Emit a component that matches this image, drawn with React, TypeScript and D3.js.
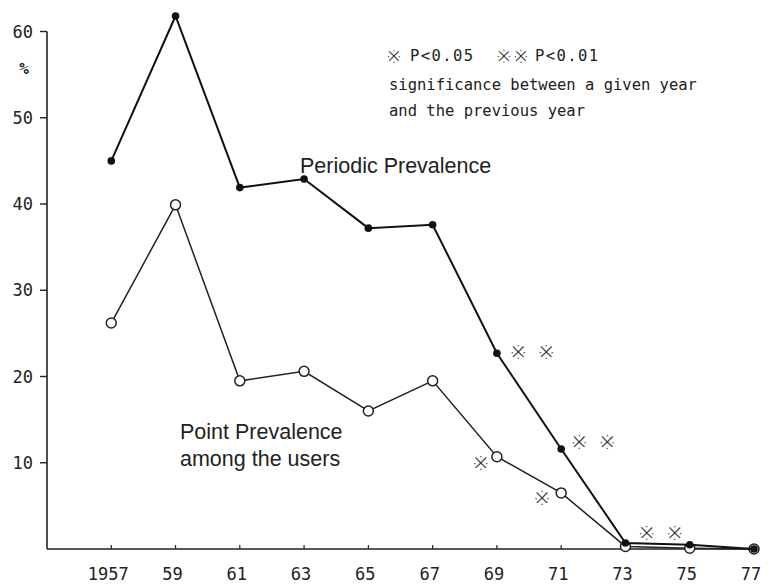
import React from "react";
import * as d3 from "d3";

// survey years and tick labels
const years = [1957, 1959, 1961, 1963, 1965, 1967, 1969, 1971, 1973, 1975, 1977];
const xTickLabels = ["1957", "59", "61", "63", "65", "67", "69", "71", "73", "75", "77"];
const yTicks = [10, 20, 30, 40, 50, 60];

// % values
const periodic = [45.0, 61.8, 41.9, 42.9, 37.2, 37.6, 22.7, 11.6, 0.7, 0.5, 0.0];
const pointPrev = [26.2, 39.9, 19.5, 20.6, 16.0, 19.5, 10.7, 6.5, 0.3, 0.1, 0.0];

// significance marks (anchor year, anchor value, count of ※)
const starYears = [1970.1, 1968.5, 1972.0, 1970.4, 1974.1];
const starValues = [22.9, 10.1, 12.5, 6.0, 2.0];
const starCounts = [2, 1, 2, 1, 2];

const W = 771;
const H = 584;
const mono = "'DejaVu Sans Mono', 'Liberation Mono', monospace";
const sans = "'Liberation Sans', Arial, sans-serif";
const starFont = "'DejaVu Sans ExtraLight', 'DejaVu Sans', sans-serif";

export default function App() {
  const x = d3.scaleLinear().domain([1955, 1977]).range([47, 754]);
  const y = d3.scaleLinear().domain([0, 60]).range([549, 31.5]);

  const line = d3
    .line<number>()
    .x((d, i) => x(years[i]))
    .y((d) => y(d));

  return (
    <svg width={W} height={H} style={{ position: "absolute", left: 0, top: 0, background: "#fff" }}>
      <rect width={W} height={H} fill="#fff" />

      {/* axes */}
      <line x1={x(1955)} x2={x(1955)} y1={y(60)} y2={y(0)} stroke="#222" strokeWidth={1.6} />
      <line x1={x(1955)} x2={x(1977) + 4} y1={y(0)} y2={y(0)} stroke="#222" strokeWidth={1.6} />
      {yTicks.map((t) => (
        <g key={t}>
          <line x1={x(1955) - 7} x2={x(1955)} y1={y(t)} y2={y(t)} stroke="#222" strokeWidth={1.4} />
          <text x={33} y={y(t) + 6} textAnchor="end" fontFamily={mono} fontSize={17} fill="#222">
            {t}
          </text>
        </g>
      ))}
      <text x={24} y={74} textAnchor="middle" fontFamily={mono} fontSize={16} fontWeight="bold" fill="#222">%</text>
      {years.map((yr, i) => (
        <g key={yr}>
          <line x1={x(yr)} x2={x(yr)} y1={y(0)} y2={y(0) - 4} stroke="#222" strokeWidth={1.2} />
          <text x={x(yr) - 3} y={580} textAnchor="middle" fontFamily={mono} fontSize={17} fill="#222">
            {xTickLabels[i]}
          </text>
        </g>
      ))}

      {/* point prevalence */}
      <path d={line(pointPrev) || ""} fill="none" stroke="#222" strokeWidth={1.5} />
      {pointPrev.map((v, i) => (
        <circle key={i} cx={x(years[i])} cy={y(v)} r={5} fill="#fff" stroke="#222" strokeWidth={1.5} />
      ))}

      {/* periodic prevalence */}
      <path d={line(periodic) || ""} fill="none" stroke="#111" strokeWidth={2} />
      {periodic.map((v, i) => (
        <circle key={i} cx={x(years[i])} cy={y(v)} r={3.8} fill="#111" />
      ))}

      {/* significance marks */}
      {starYears.map((yr, i) => {
        const offs = starCounts[i] === 2 ? [-14, 14] : [0];
        return offs.map((o, j) => (
          <text
            key={i + "-" + j}
            x={x(yr) + o}
            y={y(starValues[i]) + 8}
            textAnchor="middle"
            fontFamily={starFont}
            fontWeight={200}
            fontSize={22}
            fill="#333"
          >
            ※
          </text>
        ));
      })}

      {/* series labels */}
      <text x={300} y={173} fontFamily={sans} fontSize={21.5} fill="#222">Periodic Prevalence</text>
      <text x={180} y={439} fontFamily={sans} fontSize={21.5} fill="#222">Point Prevalence</text>
      <text x={180} y={466} fontFamily={sans} fontSize={21.5} fill="#222">among the users</text>

      {/* legend note */}
      <g fontFamily={mono} fontSize={15.5} fill="#222">
        <text x={394} y={63} textAnchor="middle" fontFamily={starFont} fontWeight={200} fontSize={20} fill="#333">※</text>
        <text x={410} y={61} letterSpacing={1.4}>P&lt;0.05</text>
        <text x={504} y={63} textAnchor="middle" fontFamily={starFont} fontWeight={200} fontSize={20} fill="#333">※</text>
        <text x={521} y={63} textAnchor="middle" fontFamily={starFont} fontWeight={200} fontSize={20} fill="#333">※</text>
        <text x={535} y={61} letterSpacing={1.4}>P&lt;0.01</text>
        <text x={389} y={90}>significance between a given year</text>
        <text x={389} y={116}>and the previous year</text>
      </g>
    </svg>
  );
}
